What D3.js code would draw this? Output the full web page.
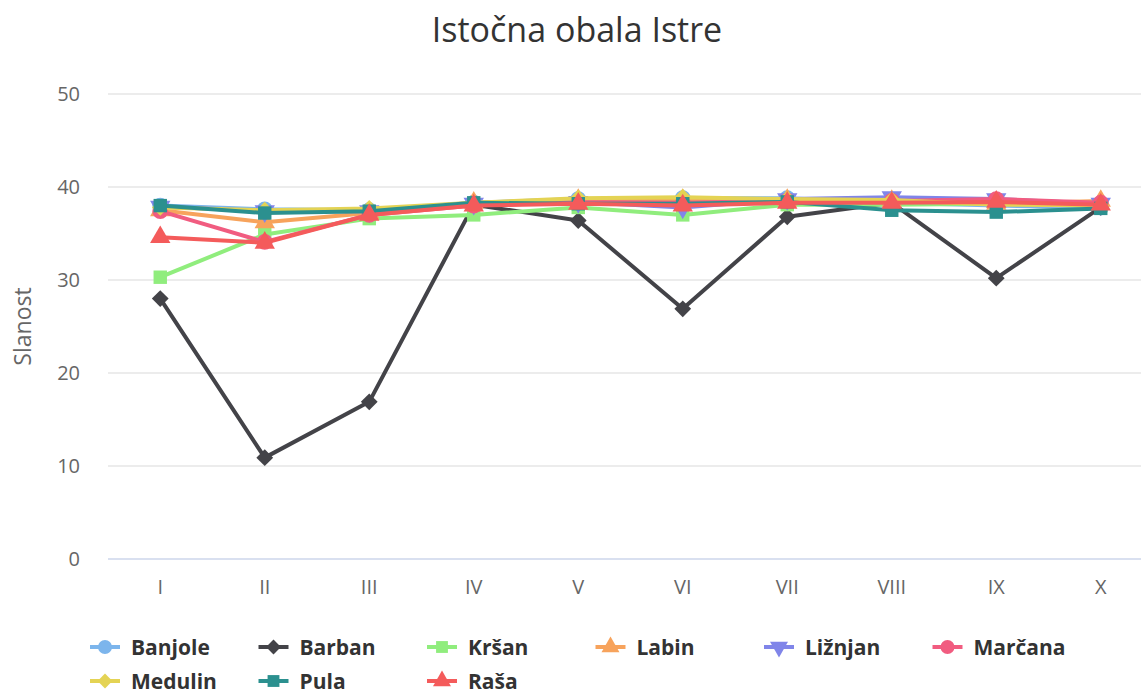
<!DOCTYPE html>
<html>
<head>
<meta charset="utf-8">
<script src="https://cdn.jsdelivr.net/npm/d3@7"></script>
<style>
  body { margin: 0; background: #fff; }
  svg { display: block; font-family: "Open Sans", "DejaVu Sans", sans-serif; }
</style>
</head>
<body>
<svg id="chart" width="1141" height="693"></svg>
<script>
// Chart data
const months = ['I', 'II', 'III', 'IV', 'V', 'VI', 'VII', 'VIII', 'IX', 'X'];
const seriesNames = ['Banjole', 'Barban', 'Kršan', 'Labin', 'Ližnjan', 'Marčana', 'Medulin', 'Pula', 'Raša'];

const banjole = [38.0, 37.6, 37.5, 38.3, 38.7, 38.8, 38.8, 38.3, 38.0, 37.8];
const barban  = [28.0, 10.9, 16.9, 38.1, 36.4, 26.9, 36.8, 38.3, 30.2, 37.8];
const krsan   = [30.3, 34.9, 36.6, 37.0, 37.8, 37.0, 38.1, 38.1, 38.2, 38.0];
const labin   = [37.5, 36.2, 37.2, 38.3, 38.6, 38.6, 38.6, 38.5, 38.2, 38.5];
const liznjan = [37.9, 37.4, 37.4, 38.2, 38.4, 37.8, 38.7, 38.9, 38.7, 38.2];
const marcana = [37.4, 34.1, 37.0, 38.0, 38.4, 38.3, 38.5, 38.5, 38.7, 38.3];
const medulin = [37.8, 37.5, 37.7, 38.3, 38.8, 38.9, 38.7, 38.6, 38.1, 38.0];
const pula    = [38.0, 37.2, 37.4, 38.3, 38.2, 38.2, 38.4, 37.5, 37.3, 37.7];
const rasa    = [34.6, 34.0, 37.0, 38.0, 38.2, 38.0, 38.3, 38.3, 38.4, 38.1];

const yTicks = [0, 10, 20, 30, 40, 50];

const seriesValues = [banjole, barban, krsan, labin, liznjan, marcana, medulin, pula, rasa];
const colors = ['#7cb5ec', '#434348', '#90ed7d', '#f7a35c', '#8085e9', '#f15c80', '#e4d354', '#2b908f', '#f45b5b'];
const symbols = ['circle', 'diamond', 'square', 'triangle', 'triangle-down', 'circle', 'diamond', 'square', 'triangle'];

const svg = d3.select('#chart');
const margin = { left: 108, top: 94, bottom: 559 };
const plotRight = 1153;

const x = d3.scaleBand().domain(months).range([margin.left, plotRight]);
const y = d3.scaleLinear().domain([0, 50]).range([margin.bottom, margin.top]);

// Title
svg.append('text')
    .attr('x', 577).attr('y', 42)
    .attr('text-anchor', 'middle')
    .attr('font-size', 34)
    .attr('fill', '#333333')
    .text('Istočna obala Istre');

// Grid lines + y labels
const grid = svg.append('g');
yTicks.forEach(t => {
    grid.append('line')
        .attr('x1', margin.left).attr('x2', plotRight)
        .attr('y1', y(t)).attr('y2', y(t))
        .attr('stroke', t === 0 ? '#ccd6eb' : '#e6e6e6')
        .attr('stroke-width', 1.5);
    grid.append('text')
        .attr('x', 80).attr('y', y(t) + 7)
        .attr('text-anchor', 'end')
        .attr('font-size', 20)
        .attr('fill', '#666666')
        .text(t);
});

// x labels
months.forEach(m => {
    svg.append('text')
        .attr('x', x(m) + x.bandwidth() / 2)
        .attr('y', 594)
        .attr('text-anchor', 'middle')
        .attr('font-size', 20)
        .attr('fill', '#666666')
        .text(m);
});

// y axis title
svg.append('text')
    .attr('transform', `translate(31, ${(margin.top + margin.bottom) / 2}) rotate(-90)`)
    .attr('text-anchor', 'middle')
    .attr('font-size', 23)
    .attr('fill', '#666666')
    .text('Slanost');

function symbolPath(name, size) {
    switch (name) {
        case 'circle': return d3.symbol(d3.symbolCircle, size * 1.1)();
        case 'diamond': return d3.symbol(d3.symbolDiamond2, size)();
        case 'square': return d3.symbol(d3.symbolSquare, size)();
        case 'triangle': return d3.symbol(d3.symbolTriangle, size)();
        case 'triangle-down': return d3.symbol(d3.symbolTriangle, size)();
    }
}

const line = d3.line()
    .x((d, i) => x(months[i]) + x.bandwidth() / 2)
    .y(d => y(d));

const plot = svg.append('g');
seriesValues.forEach((vals, si) => {
    const g = plot.append('g');
    g.append('path')
        .attr('d', line(vals))
        .attr('fill', 'none')
        .attr('stroke', colors[si])
        .attr('stroke-width', 4)
        .attr('stroke-linejoin', 'round');
    vals.forEach((v, i) => {
        const rot = symbols[si] === 'triangle-down' ? 180 : 0;
        g.append('path')
            .attr('d', symbolPath(symbols[si], 180))
            .attr('transform', `translate(${x(months[i]) + x.bandwidth() / 2}, ${y(v)}) rotate(${rot})`)
            .attr('fill', colors[si]);
    });
});

// Legend
const legend = svg.append('g');
seriesNames.forEach((name, i) => {
    const col = i % 6, row = Math.floor(i / 6);
    const lx = 90 + col * 168.5;
    const ly = 647 + row * 34;
    const item = legend.append('g').attr('transform', `translate(${lx}, ${ly})`);
    item.append('line')
        .attr('x1', 0).attr('x2', 30).attr('y1', 0).attr('y2', 0)
        .attr('stroke', colors[i]).attr('stroke-width', 4);
    const rot = symbols[i] === 'triangle-down' ? 180 : 0;
    item.append('path')
        .attr('d', symbolPath(symbols[i], 140))
        .attr('transform', `translate(15, 0) rotate(${rot})`)
        .attr('fill', colors[i]);
    item.append('text')
        .attr('x', 41).attr('y', 7.5)
        .attr('font-size', 21)
        .attr('font-weight', 'bold')
        .attr('fill', '#333333')
        .text(name);
});
</script>
</body>
</html>
